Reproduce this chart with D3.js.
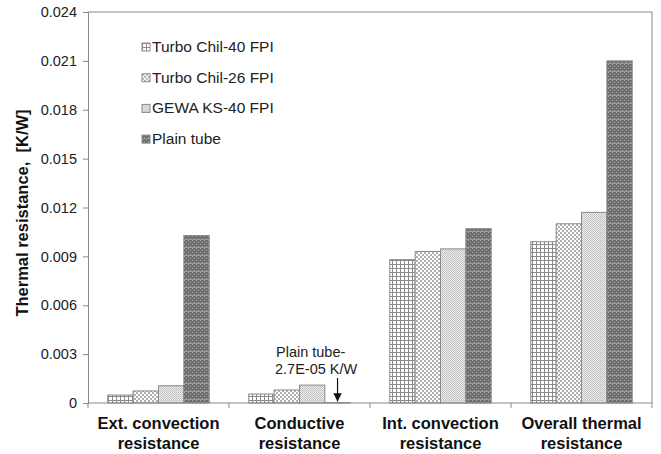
<!DOCTYPE html>
<html lang="en">
<head>
<meta charset="UTF-8">
<title>thermal resistance</title>
<style>
	body { margin: 0; background: #fff; }
	text { font-family: Arial, "Liberation Sans", sans-serif; }
</style>
</head>
<body>
<svg id="container" width="661" height="454"></svg>
<script src="https://cdn.jsdelivr.net/npm/d3@7"></script>
<script>
	// data
	let categories = [["Ext. convection", "resistance"], ["Conductive", "resistance"], ["Int. convection", "resistance"], ["Overall thermal", "resistance"]];
	let seriesNames = ["Turbo Chil-40 FPI", "Turbo Chil-26 FPI", "GEWA KS-40 FPI", "Plain tube"];
	let turbo40 = [0.00049, 0.00055, 0.0088, 0.0099];
	let turbo26 = [0.00074, 0.0008, 0.0093, 0.0110];
	let gewa40 = [0.00106, 0.0011, 0.00946, 0.0117];
	let plainTube = [0.01028, 0.000027, 0.0107, 0.0210];
	let yTicks = [0, 0.003, 0.006, 0.009, 0.012, 0.015, 0.018, 0.021, 0.024];

	let series = [turbo40, turbo26, gewa40, plainTube];
	let svg = d3.select("#container");
	let pLeft = 88, pRight = 652, pTop = 12, pBottom = 403;

	// patterns
	let defs = svg.append("defs");
	let p1 = defs.append("pattern").attr("id", "p0").attr("patternUnits", "userSpaceOnUse").attr("width", 4).attr("height", 4);
	p1.append("rect").attr("width", 4).attr("height", 4).attr("fill", "#fff");
	p1.append("rect").attr("width", 1).attr("height", 4).attr("fill", "#8a8a8a");
	p1.append("rect").attr("width", 4).attr("height", 1).attr("fill", "#8a8a8a");

	let p2 = defs.append("pattern").attr("id", "p1").attr("patternUnits", "userSpaceOnUse").attr("width", 4).attr("height", 4);
	p2.append("rect").attr("width", 4).attr("height", 4).attr("fill", "#fff");
	p2.append("rect").attr("width", 2).attr("height", 2).attr("fill", "#b0b0b0");
	p2.append("rect").attr("x", 2).attr("y", 2).attr("width", 2).attr("height", 2).attr("fill", "#b0b0b0");

	let p3 = defs.append("pattern").attr("id", "p2").attr("patternUnits", "userSpaceOnUse").attr("width", 2).attr("height", 2);
	p3.append("rect").attr("width", 2).attr("height", 2).attr("fill", "#eeeeee");
	p3.append("rect").attr("width", 1).attr("height", 1).attr("fill", "#b8b8b8");
	p3.append("rect").attr("x", 1).attr("y", 1).attr("width", 1).attr("height", 1).attr("fill", "#c8c8c8");

	let p4 = defs.append("pattern").attr("id", "p3").attr("patternUnits", "userSpaceOnUse").attr("width", 4).attr("height", 8);
	p4.append("rect").attr("width", 4).attr("height", 8).attr("fill", "#6e6e6e");
	p4.append("rect").attr("width", 1).attr("height", 1).attr("fill", "#a8a8a8");
	p4.append("rect").attr("x", 2).attr("y", 2).attr("width", 1).attr("height", 1).attr("fill", "#a8a8a8");
	p4.append("rect").attr("x", 0).attr("y", 4).attr("width", 1).attr("height", 1).attr("fill", "#a8a8a8");
	p4.append("rect").attr("x", 2).attr("y", 6).attr("width", 1).attr("height", 1).attr("fill", "#a8a8a8");
	p4.append("rect").attr("y", 7).attr("width", 4).attr("height", 1).attr("fill", "#9a9a9a");

	let x = d3.scaleBand().domain(d3.range(categories.length)).range([pLeft, pRight]);
	let xs = d3.scaleBand().domain(d3.range(series.length)).range([0, x.bandwidth()]).paddingOuter(0.78);
	let y = d3.scaleLinear().domain([0, 0.024]).range([pBottom, pTop]);

	// frame
	svg.append("line").attr("x1", pLeft).attr("x2", pRight).attr("y1", pTop).attr("y2", pTop).attr("stroke", "#888");
	svg.append("line").attr("x1", pRight).attr("x2", pRight).attr("y1", pTop).attr("y2", pBottom).attr("stroke", "#888");

	// bars
	series.forEach((s, i) => {
		svg.append("g").selectAll("rect")
			.data(s)
			.enter()
			.append("rect")
			.attr("x", (d, j) => x(j) + xs(i))
			.attr("y", d => y(d))
			.attr("width", xs.bandwidth())
			.attr("height", d => pBottom - y(d))
			.attr("fill", "url(#p" + i + ")")
			.attr("stroke", "#8a8a8a")
			.attr("stroke-width", 1);
	});

	// y axis
	let yAxis = svg.append("g")
		.attr("transform", "translate(" + pLeft + ",0)")
		.call(d3.axisLeft(y).tickValues(yTicks).tickSize(5).tickPadding(6)
			.tickFormat(d => d === 0 ? "0" : d3.format(".3f")(d)));
	yAxis.selectAll("line, path").attr("stroke", "#888");
	yAxis.selectAll("text").attr("font-size", 14.5).attr("fill", "#222").style("font-family", "Arial, 'Liberation Sans', sans-serif");

	// x axis
	let xAxis = svg.append("g")
		.attr("transform", "translate(0," + pBottom + ")");
	xAxis.append("line").attr("x1", pLeft).attr("x2", pRight).attr("stroke", "#888");
	xAxis.selectAll("line.tk")
		.data(d3.range(categories.length + 1))
		.enter()
		.append("line")
		.attr("class", "tk")
		.attr("x1", d => pLeft + d * x.bandwidth())
		.attr("x2", d => pLeft + d * x.bandwidth())
		.attr("y1", 0).attr("y2", 5)
		.attr("stroke", "#888");
	categories.forEach((c, j) => {
		let t = svg.append("text")
			.attr("x", x(j) + x.bandwidth() / 2)
			.attr("y", 429)
			.attr("text-anchor", "middle")
			.attr("font-size", 16.5)
			.attr("font-weight", "bold")
			.attr("fill", "#111");
		t.append("tspan").attr("x", x(j) + x.bandwidth() / 2).text(c[0]);
		t.append("tspan").attr("x", x(j) + x.bandwidth() / 2).attr("dy", 20).text(c[1]);
	});

	// y title
	svg.append("text")
		.attr("transform", "translate(28,213) rotate(-90)")
		.attr("text-anchor", "middle")
		.attr("font-size", 16.5)
		.attr("font-weight", "bold")
		.attr("fill", "#111")
		.attr("xml:space", "preserve")
		.text("Thermal resistance,  [K/W]");

	// legend
	let legend = svg.append("g").attr("transform", "translate(142,47)");
	seriesNames.forEach((n, i) => {
		let g = legend.append("g").attr("transform", "translate(0," + (i * 30.7) + ")");
		g.append("rect").attr("x", 0).attr("y", -4).attr("width", 8).attr("height", 8)
			.attr("fill", "url(#p" + i + ")").attr("stroke", "#8a8a8a");
		g.append("text").attr("x", 10).attr("y", 5).attr("font-size", 15.5).attr("fill", "#222").text(n);
	});

	// annotation
	let ax = x(1) + xs(3) + xs.bandwidth() / 2;
	svg.append("text").attr("x", 276).attr("y", 357).attr("font-size", 14.5).attr("fill", "#222").text("Plain tube-");
	svg.append("text").attr("x", 275).attr("y", 374).attr("font-size", 14.5).attr("fill", "#222").text("2.7E-05 K/W");
	defs.append("marker").attr("id", "arr").attr("viewBox", "0 0 10 10").attr("refX", 10).attr("refY", 5)
		.attr("markerWidth", 7).attr("markerHeight", 7).attr("orient", "auto")
		.append("path").attr("d", "M0,0 L10,5 L0,10 z").attr("fill", "#111");
	svg.append("line").attr("x1", ax).attr("x2", ax).attr("y1", 378).attr("y2", y(plainTube[1]) - 1)
		.attr("stroke", "#111").attr("stroke-width", 1.2).attr("marker-end", "url(#arr)");
</script>
</body>
</html>
